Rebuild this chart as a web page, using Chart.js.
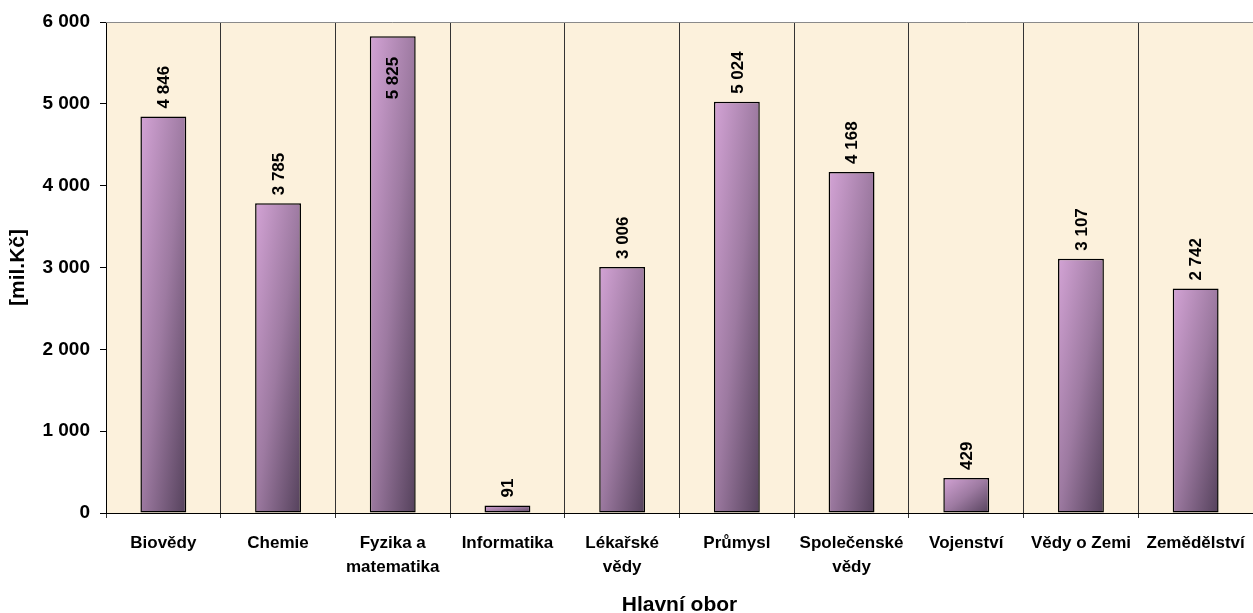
<!DOCTYPE html>
<html>
<head>
<meta charset="utf-8">
<script src="https://cdn.jsdelivr.net/npm/chart.js@4/dist/chart.umd.min.js"></script>
<style>
  html, body { margin: 0; padding: 0; background: #fff; }
  #wrap { width: 1253px; height: 613px; }
</style>
</head>
<body>
<div id="wrap"><canvas id="myChart"></canvas></div>
<script>
const categories = ['Biovědy', 'Chemie', ['Fyzika a', 'matematika'], 'Informatika', ['Lékařské', 'vědy'],
  'Průmysl', ['Společenské', 'vědy'], 'Vojenství', 'Vědy o Zemi', 'Zemědělství'];
const amounts = [4846, 3785, 5825, 91, 3006, 5024, 4168, 429, 3107, 2742];
const yTicks = [0, 1000, 2000, 3000, 4000, 5000, 6000];

const FONT = 'Arial, "Liberation Sans", sans-serif';

function fmt(v) {
  return String(v).replace(/\B(?=(\d{3})+(?!\d))/g, ' ');
}

// diagonal gradient per bar, light top-left -> dark bottom-right
function barFill(ctx) {
  const chart = ctx.chart;
  const xs = chart.scales.x, ys = chart.scales.y;
  if (!chart.chartArea || !xs || !ys) return '#9b7b9f';
  const xc = xs.getPixelForValue(ctx.dataIndex);
  const w = xs.width / categories.length * 0.4;
  const top = ys.getPixelForValue(ctx.raw);
  const h = Math.max(1, ys.getPixelForValue(0) - top);
  const left = xc - w / 2;
  const f = 2 * w * h / (h * h + w * w);
  const g = chart.ctx.createLinearGradient(left, top, left + f * h, top + f * w);
  g.addColorStop(0, '#d3a3d5');
  g.addColorStop(0.5, '#9d7aa1');
  g.addColorStop(1, '#54415b');
  return g;
}

const paperBg = {
  id: 'paperBg',
  beforeDraw(chart) {
    const {ctx, chartArea: a} = chart;
    ctx.save();
    ctx.fillStyle = '#fcf1dc';
    ctx.fillRect(a.left, a.top, a.right - a.left, a.bottom - a.top);
    ctx.restore();
  },
  afterDraw(chart) {
    const {ctx, chartArea: a} = chart;
    ctx.save();
    ctx.strokeStyle = '#8a8a8a';
    ctx.lineWidth = 1;
    ctx.beginPath();
    ctx.moveTo(a.left, a.top + 0.5);
    ctx.lineTo(a.right, a.top + 0.5);
    ctx.stroke();
    ctx.restore();
  }
};

const valueLabels = {
  id: 'valueLabels',
  afterDatasetsDraw(chart) {
    const {ctx, chartArea: a} = chart;
    const meta = chart.getDatasetMeta(0);
    ctx.save();
    ctx.font = 'bold 17px ' + FONT;
    ctx.fillStyle = '#000';
    ctx.textBaseline = 'middle';
    ctx.textAlign = 'left';
    meta.data.forEach((bar, i) => {
      const txt = fmt(amounts[i]);
      const tw = ctx.measureText(txt).width;
      let start = bar.y - 8;
      if (start - tw < a.top + 4) start = bar.y + 63;
      ctx.save();
      ctx.translate(bar.x + 1, start);
      ctx.rotate(-Math.PI / 2);
      ctx.fillText(txt, 0, 0);
      ctx.restore();
    });
    ctx.restore();
  }
};

new Chart(document.getElementById('myChart'), {
  type: 'bar',
  data: {
    labels: categories,
    datasets: [{
      data: amounts,
      backgroundColor: barFill,
      borderColor: '#000',
      borderWidth: 1.5,
      borderSkipped: false,
      barPercentage: 0.4,
      categoryPercentage: 1
    }]
  },
  options: {
    responsive: true,
    maintainAspectRatio: false,
    animation: false,
    layout: { padding: { top: 22, right: 0, left: 0, bottom: 0 } },
    plugins: {
      legend: { display: false },
      tooltip: { enabled: false }
    },
    scales: {
      x: {
        offset: true,
        grid: { display: true, offset: true, color: '#333', lineWidth: 1, tickLength: 5, drawOnChartArea: true },
        border: { color: '#000', width: 1 },
        ticks: {
          color: '#000', maxRotation: 0, autoSkip: false, padding: 13,
          font: { family: FONT, size: 17, weight: 'bold', lineHeight: 1.41 }
        },
        title: {
          display: true, text: 'Hlavní obor', color: '#000',
          font: { family: FONT, size: 21, weight: 'bold', lineHeight: 1 },
          padding: { top: 0, bottom: -3 }
        },
        afterFit(s) {
          s.height = 100;
          s.paddingLeft = 0;
          s.paddingRight = 0;
        }
      },
      y: {
        min: 0, max: 6000,
        afterBuildTicks(s) { s.ticks = yTicks.map(v => ({ value: v })); },
        grid: { drawOnChartArea: false, drawTicks: true, tickLength: 6, color: '#000' },
        border: { color: '#000', width: 1 },
        ticks: {
          color: '#000', padding: 10,
          font: { family: FONT, size: 19, weight: 'bold' },
          callback: v => fmt(v)
        },
        title: {
          display: true, text: '[mil.Kč]', color: '#000',
          font: { family: FONT, size: 21, weight: 'bold' },
          padding: { top: 6, bottom: 0 }
        },
        afterFit(s) { s.width = 106; }
      }
    }
  },
  plugins: [paperBg, valueLabels]
});
</script>
</body>
</html>
